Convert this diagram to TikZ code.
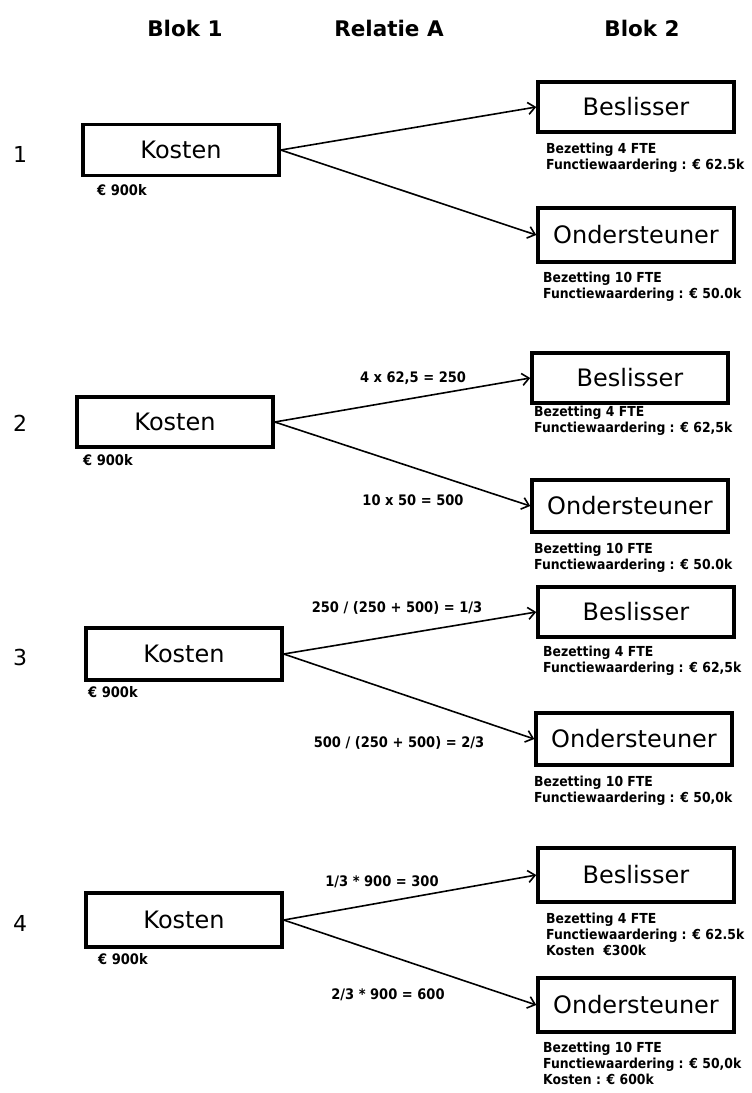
\documentclass[tikz,border=0pt]{standalone}
\usepackage{fontspec}
\setmainfont{DejaVu Sans}
\newfontfamily\smalfont{DejaVu Sans Condensed}
\usetikzlibrary{arrows.meta}

\begin{document}
\begin{tikzpicture}[x=1pt,y=-1pt,
        blok/.style={draw,line width=3.5pt,minimum width=196pt,inner sep=0pt,
                font=\fontsize{24}{28}\selectfont},
        kop/.style={font=\fontsize{21.5}{26}\selectfont\bfseries},
        nr/.style={font=\fontsize{22}{26}\selectfont},
        info/.style={anchor=north west,inner sep=0pt,align=left,
                font=\smalfont\fontsize{13.8}{16}\selectfont\bfseries},
        bedrag/.style={anchor=west,inner sep=0pt,font=\smalfont\fontsize{14.5}{16}\selectfont\bfseries},
        reken/.style={inner sep=0pt,font=\smalfont\fontsize{14.5}{17}\selectfont\bfseries},
        pijl/.style={line width=1.6pt,-{Straight Barb[length=7pt,width=12pt]}}]

        \useasboundingbox (0,0) rectangle (752,1093);

        % koppen
        \path   (185,28) node (kop1) [kop] {Blok 1}
                (389,28) node (kopa) [kop] {Relatie A}
                (642,28) node (kop2) [kop] {Blok 2};

        % stap 1
        \path   (20,154) node (nr1) [nr] {1}
                (181,150) node (kosten1) [blok,minimum height=51pt] {Kosten}
                (636,107) node (besl1) [blok,minimum height=50pt] {Beslisser}
                (636,235) node (onder1) [blok,minimum height=54pt] {Ondersteuner}
                (97,190) node (bedrag1) [bedrag] {€ 900k}
                (546,143) node (bi1) [info] {Bezetting 4 FTE\\Functiewaardering : € 62.5k}
                (543,272) node (oi1) [info] {Bezetting 10 FTE\\Functiewaardering : € 50.0k};

        \draw[pijl] (kosten1.east) -- (besl1.west);
        \draw[pijl] (kosten1.east) -- (onder1.west);

        % stap 2
        \path   (20,423) node (nr2) [nr] {2}
                (175,422) node (kosten2) [blok,minimum height=50pt] {Kosten}
                (630,378) node (besl2) [blok,minimum height=50pt] {Beslisser}
                (630,506) node (onder2) [blok,minimum height=52pt] {Ondersteuner}
                (83,460) node (bedrag2) [bedrag] {€ 900k}
                (534,406) node (bi2) [info] {Bezetting 4 FTE\\Functiewaardering : € 62,5k}
                (534,543) node (oi2) [info] {Bezetting 10 FTE\\Functiewaardering : € 50.0k}
                (413,378) node (r2a) [reken] {4 x 62,5 = 250}
                (413,500) node (r2b) [reken] {10 x 50 = 500};

        \draw[pijl] (kosten2.east) -- (besl2.west);
        \draw[pijl] (kosten2.east) -- (onder2.west);

        % stap 3
        \path   (20,657) node (nr3) [nr] {3}
                (184,654) node (kosten3) [blok,minimum height=52pt] {Kosten}
                (636,612) node (besl3) [blok,minimum height=50pt] {Beslisser}
                (634,739) node (onder3) [blok,minimum height=52pt] {Ondersteuner}
                (88,692) node (bedrag3) [bedrag] {€ 900k}
                (543,646) node (bi3) [info] {Bezetting 4 FTE\\Functiewaardering : € 62,5k}
                (534,776) node (oi3) [info] {Bezetting 10 FTE\\Functiewaardering : € 50,0k}
                (397,608) node (r3a) [reken] {250 / (250 + 500) = 1/3}
                (399,743) node (r3b) [reken] {500 / (250 + 500) = 2/3};

        \draw[pijl] (kosten3.east) -- (besl3.west);
        \draw[pijl] (kosten3.east) -- (onder3.west);

        % stap 4
        \path   (20,923) node (nr4) [nr] {4}
                (184,920) node (kosten4) [blok,minimum height=54pt] {Kosten}
                (636,875) node (besl4) [blok,minimum height=54pt] {Beslisser}
                (636,1005) node (onder4) [blok,minimum height=54pt] {Ondersteuner}
                (98,959) node (bedrag4) [bedrag] {€ 900k}
                (546,913) node (bi4) [info] {Bezetting 4 FTE\\Functiewaardering : € 62.5k\\Kosten\ \ €300k}
                (543,1042) node (oi4) [info] {Bezetting 10 FTE\\Functiewaardering : € 50,0k\\Kosten : € 600k}
                (382,882) node (r4a) [reken] {1/3 * 900 = 300}
                (388,995) node (r4b) [reken] {2/3 * 900 = 600};

        \draw[pijl] (kosten4.east) -- (besl4.west);
        \draw[pijl] (kosten4.east) -- (onder4.west);

\end{tikzpicture}
\end{document}
